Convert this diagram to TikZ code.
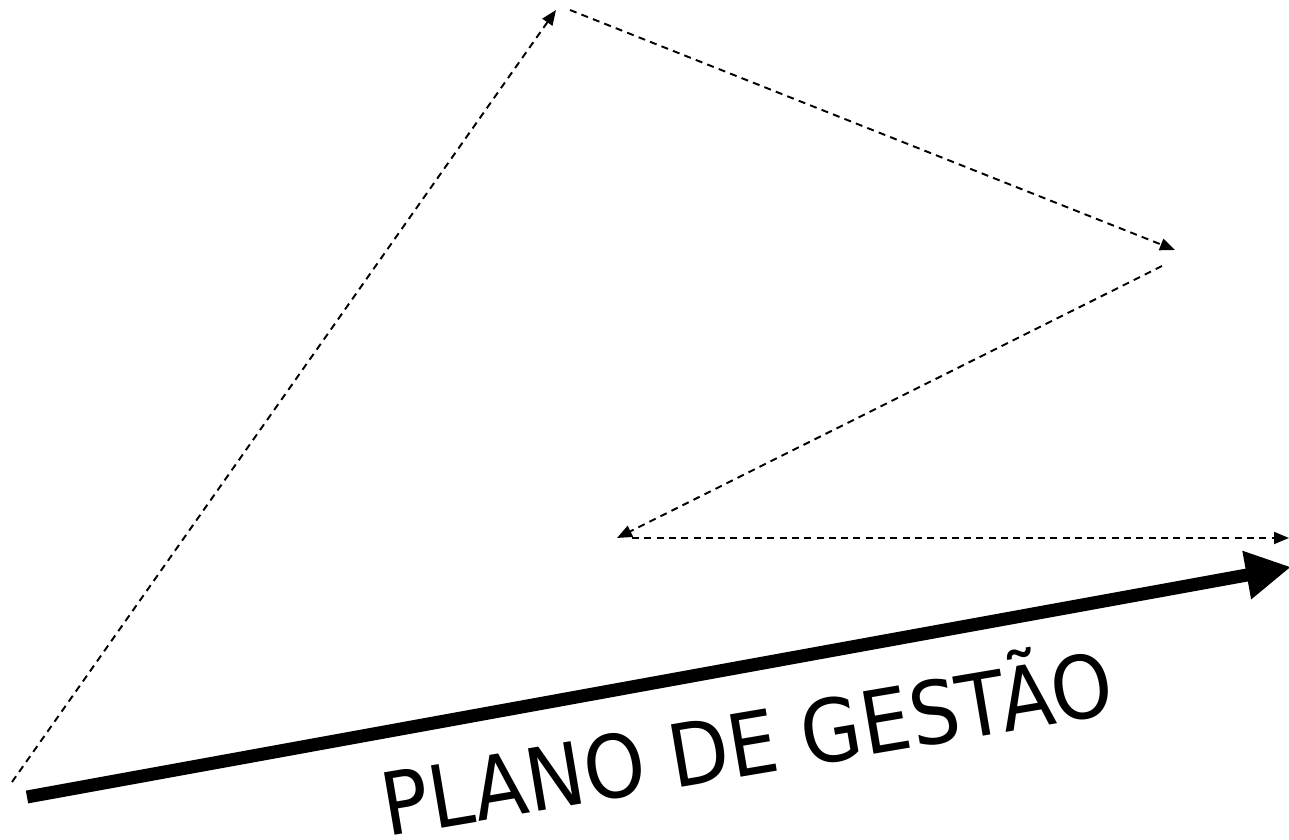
\documentclass[tikz,border=0pt]{standalone}
\usepackage{fontspec}
\usepackage{graphicx}
\setmainfont{DejaVu Sans}
\usetikzlibrary{arrows.meta}

\begin{document}
\begin{tikzpicture}[
    flow/.style={dash pattern=on 2pt off 1.5pt, line width=0.55pt,
      -{Triangle[length=0.15cm, width=0.12cm]}},
    plan/.style={line width=0.13cm, -{Triangle[length=0.45cm, width=0.46cm]}}]
  \useasboundingbox (0,0) rectangle (12.89,8.39);
  \coordinate (s1) at (0.12,0.57);
  \coordinate (e1) at (5.56,8.29);
  \coordinate (s2) at (5.70,8.29);
  \coordinate (e2) at (11.75,5.89);
  \coordinate (s3) at (11.62,5.73);
  \coordinate (e3) at (6.17,3.01);
  \coordinate (s4) at (6.32,3.01);
  \coordinate (e4) at (12.89,3.01);
  \coordinate (ps) at (0.27,0.42);
  \coordinate (pe) at (12.91,2.72);
  \draw[flow] (s1) -- (e1);
  \draw[flow] (s2) -- (e2);
  \draw[flow] (s3) -- (e3);
  \draw[flow] (s4) -- (e4);
  \draw[plan] (ps) -- (pe);
  \node[rotate=9.6, anchor=base west, inner sep=0pt, font=\fontsize{24.7pt}{29pt}\selectfont]
    (gestao) at (3.87,0.02) {\scalebox{0.9}[1]{PLANO DE GESTÃO}};
\end{tikzpicture}
\end{document}
